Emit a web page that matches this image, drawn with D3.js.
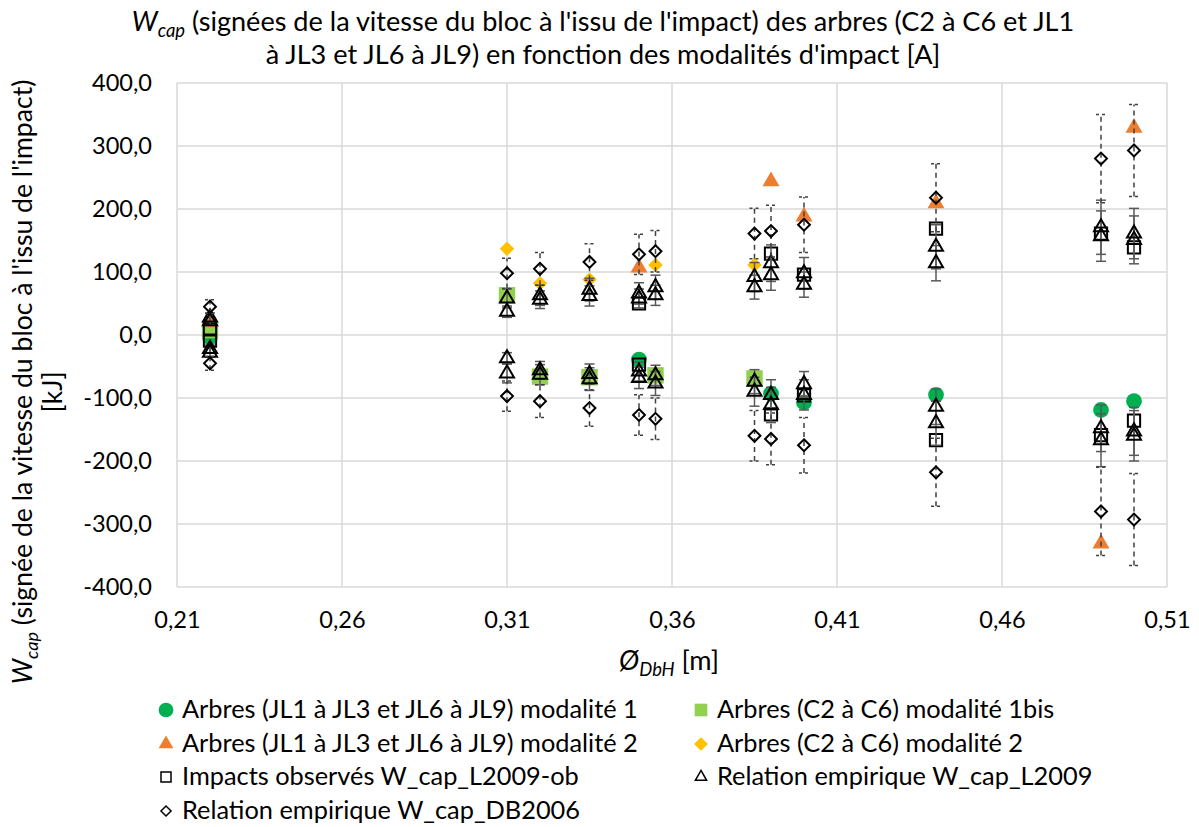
<!DOCTYPE html>
<html><head><meta charset="utf-8">
<script src="https://cdn.jsdelivr.net/npm/d3@7"></script>
<style>body{margin:0;background:#fff}svg{display:block}text{font-family:Lato,"Liberation Sans",sans-serif;fill:#000}</style>
</head><body><svg id="c" width="1199" height="827"></svg>
<script>
// ---- data ----
const xTicks = [0.21, 0.26, 0.31, 0.36, 0.41, 0.46, 0.51];
const yTicks = [-400, -300, -200, -100, 0, 100, 200, 300, 400];

const mod1JL_x = [0.22, 0.35, 0.39, 0.40, 0.44, 0.49, 0.50];
const mod1JL_y = [-4, -39, -93, -107, -95, -119, -105];

const mod1bisC_x = [0.22, 0.31, 0.32, 0.335, 0.355, 0.385];
const mod1bisC_y = [8, 63, -66, -67, -64, -69];

const mod2JL_x = [0.22, 0.35, 0.39, 0.40, 0.44, 0.49, 0.50];
const mod2JL_y = [20, 107, 244, 188, 209, -331, 329];

const mod2C_x = [0.31, 0.32, 0.335, 0.355, 0.385];
const mod2C_y = [137, 82, 88, 111, 111];

const obs_x = [0.22, 0.22, 0.35, 0.35, 0.39, 0.39, 0.40, 0.40, 0.44, 0.44, 0.49, 0.49, 0.50, 0.50];
const obs_y = [9, -9, 50, -47, 129, -126, 96, -96, 169, -167, 161, -159, 139, -136];

const L2009_x = [0.22,0.22,0.22,0.22, 0.31,0.31,0.31,0.31, 0.32,0.32,0.32,0.32, 0.335,0.335,0.335,0.335,
  0.35,0.35,0.35,0.35, 0.355,0.355,0.355,0.355, 0.385,0.385,0.385,0.385, 0.39,0.39,0.39,0.39,
  0.40,0.40,0.40,0.40, 0.44,0.44,0.44,0.44, 0.49,0.49,0.49,0.49, 0.50,0.50,0.50,0.50];
const L2009_y = [28,22,-22,-28, 58,37,-37,-61, 63,56,-56,-63, 72,62,-62,-70,
  66,58,-58,-68, 76,63,-64,-77, 92,76,-74,-90, 114,95,-95,-111,
  98,80,-78,-95, 140,114,-114,-140, 171,157,-148,-167, 161,151,-153,-160];
const L2009_err = [7,6,6,7, 15,9,9,15, 16,14,14,16, 18,16,16,18,
  17,15,15,17, 19,16,16,19, 23,19,19,23, 29,24,24,28,
  25,20,20,24, 35,28,28,35, 43,40,37,42, 40,38,38,40];

const DB2006_x = [0.22,0.22, 0.31,0.31, 0.32,0.32, 0.335,0.335, 0.35,0.35, 0.355,0.355,
  0.385,0.385, 0.39,0.39, 0.40,0.40, 0.44,0.44, 0.49,0.49, 0.50,0.50];
const DB2006_y = [45,-45, 98,-97, 105,-105, 116,-116, 128,-127, 133,-133,
  161,-160, 165,-165, 175,-175, 218,-218, 280,-280, 293,-293];
const DB2006_err = [11,11, 24,24, 26,26, 29,29, 32,32, 33,33,
  40,40, 41,41, 44,44, 54,54, 70,70, 73,73];

const legendLabels = [
  "Arbres (JL1 à JL3 et JL6 à JL9) modalité 1",
  "Arbres (C2 à C6) modalité 1bis",
  "Arbres (JL1 à JL3 et JL6 à JL9) modalité 2",
  "Arbres (C2 à C6) modalité 2",
  "Impacts observés W_cap_L2009-ob",
  "Relation empirique W_cap_L2009",
  "Relation empirique W_cap_DB2006"
];

// ---- chart ----
const svg = d3.select("#c");
const L = 177, R = 1167, T = 83, B = 587;
const x = d3.scaleLinear().domain([0.21, 0.51]).range([L, R]);
const y = d3.scaleLinear().domain([-400, 400]).range([B, T]);
const fmt = v => d3.format(".2f")(v).replace(".", ",");
const fmtY = v => d3.format(".1f")(v).replace(".", ",").replace("\u2212", "-");

// scale font so that a text spans a target width
function fit(sel, target) {
  const w = sel.node().getComputedTextLength();
  const fs = parseFloat(sel.attr("font-size"));
  const nf = fs * target / w;
  sel.attr("font-size", nf);
  return nf;
}

// grid
const g = svg.append("g");
g.selectAll(".gy").data(yTicks).join("line")
  .attr("x1", L).attr("x2", R).attr("y1", d => y(d)).attr("y2", d => y(d))
  .attr("stroke", "#d9d9d9").attr("stroke-width", 1.5);
g.selectAll(".gx").data(xTicks).join("line")
  .attr("y1", T).attr("y2", B).attr("x1", d => x(d)).attr("x2", d => x(d))
  .attr("stroke", "#d9d9d9").attr("stroke-width", 1.5);

// axes (labels only)
const ax = svg.append("g").attr("transform", `translate(0,${B})`)
  .call(d3.axisBottom(x).tickValues(xTicks).tickFormat(fmt).tickSize(0).tickPadding(24));
ax.select(".domain").remove();
const ay = svg.append("g").attr("transform", `translate(${L},0)`)
  .call(d3.axisLeft(y).tickValues(yTicks).tickFormat(fmtY).tickSize(0).tickPadding(25));
ay.select(".domain").remove();
ay.selectAll("text").attr("font-size", 20).style("font-family", null);
const tickFs = fit(ay.selectAll("text").filter(d => d === 400), 60);
ay.selectAll("text").attr("font-size", tickFs);
ax.selectAll("text").attr("font-size", tickFs).style("font-family", null);

// title
const t1 = svg.append("text").attr("text-anchor", "middle").attr("x", 603).attr("y", 31).attr("font-size", 22);
t1.append("tspan").attr("font-style", "italic").text("W");
t1.append("tspan").attr("font-style", "italic").style("font-size", "0.68em").attr("dy", 6).text("cap");
t1.append("tspan").attr("dy", -6).text(" (signées de la vitesse du bloc à l'issu de l'impact) des arbres (C2 à C6 et JL1");
const titleFs = fit(t1, 943);
svg.append("text").attr("text-anchor", "middle").attr("x", 603).attr("y", 64).attr("font-size", titleFs)
  .text("à JL3 et JL6 à JL9) en fonction des modalités d'impact [A]");

// x title
const xt = svg.append("text").attr("text-anchor", "middle").attr("x", 669).attr("y", 670).attr("font-size", titleFs);
xt.append("tspan").attr("font-style", "italic").text("Ø");
xt.append("tspan").attr("font-style", "italic").style("font-size", "0.68em").attr("dy", 6).text("DbH");
xt.append("tspan").attr("dy", -6).text(" [m]");

// y title
const yt = svg.append("g").attr("transform", "translate(0,382) rotate(-90)");
const yl1 = yt.append("text").attr("text-anchor", "middle").attr("x", 0).attr("y", 32).attr("font-size", 22);
yl1.append("tspan").attr("font-style", "italic").text("W");
yl1.append("tspan").attr("font-style", "italic").style("font-size", "0.68em").attr("dy", 6).text("cap");
yl1.append("tspan").attr("dy", -6).text(" (signée de la vitesse du bloc à l'issu de l'impact)");
const yFs = fit(yl1, 605);
yt.append("text").attr("text-anchor", "middle").attr("x", -10).attr("y", 62).attr("font-size", yFs).text("[kJ]");

// error bars
function errBars(xs, ys, es, color, dash) {
  const eg = svg.append("g").attr("stroke", color).attr("stroke-width", 1.5).attr("fill", "none");
  xs.forEach((xv, i) => {
    const cx = x(xv), y0 = y(ys[i] - es[i]), y1 = y(ys[i] + es[i]);
    eg.append("line").attr("x1", cx).attr("x2", cx).attr("y1", y0).attr("y2", y1).attr("stroke-dasharray", dash);
    eg.append("line").attr("x1", cx - 5).attr("x2", cx + 5).attr("y1", y0).attr("y2", y0).attr("stroke-dasharray", dash ? "3,3" : null);
    eg.append("line").attr("x1", cx - 5).attr("x2", cx + 5).attr("y1", y1).attr("y2", y1).attr("stroke-dasharray", dash ? "3,3" : null);
  });
}

const sym = (type, size) => d3.symbol().type(type).size(size)();
const series = [
  {xs: mod1JL_x, ys: mod1JL_y, path: sym(d3.symbolCircle, 195), fill: "#00B050", stroke: "none"},
  {xs: mod1bisC_x, ys: mod1bisC_y, path: sym(d3.symbolSquare, 270), fill: "#92D050", stroke: "none"},
  {xs: mod2JL_x, ys: mod2JL_y, path: sym(d3.symbolTriangle, 125), fill: "#ED7D31", stroke: "none"},
  {xs: mod2C_x, ys: mod2C_y, path: sym(d3.symbolDiamond2, 135), fill: "#FFC000", stroke: "none"},
  {xs: obs_x, ys: obs_y, path: sym(d3.symbolSquare, 150), fill: "none", stroke: "#000"},
  {xs: L2009_x, ys: L2009_y, path: sym(d3.symbolTriangle, 85), fill: "none", stroke: "#000", err: L2009_err, ec: "#595959", dash: null},
  {xs: DB2006_x, ys: DB2006_y, path: sym(d3.symbolDiamond2, 90), fill: "none", stroke: "#000", err: DB2006_err, ec: "#404040", dash: "5,4"}
];
series.forEach(s => {
  if (s.err) errBars(s.xs, s.ys, s.err, s.ec, s.dash);
  svg.append("g").selectAll("path").data(s.xs.map((xv, i) => [xv, s.ys[i]])).join("path")
    .attr("d", s.path)
    .attr("transform", d => `translate(${x(d[0])},${y(d[1])})`)
    .attr("fill", s.fill).attr("stroke", s.stroke).attr("stroke-width", 2);
});

// legend
const legPos = [[166, 710], [701, 710], [166, 744], [701, 744], [166, 777], [701, 777], [166, 811]];
const legSym = [
  {path: sym(d3.symbolCircle, 170), fill: "#00B050", stroke: "none", sw: 0},
  {path: sym(d3.symbolSquare, 160), fill: "#92D050", stroke: "none", sw: 0},
  {path: sym(d3.symbolTriangle, 95), fill: "#ED7D31", stroke: "none", sw: 0},
  {path: sym(d3.symbolDiamond2, 120), fill: "#FFC000", stroke: "none", sw: 0},
  {path: sym(d3.symbolSquare, 100), fill: "none", stroke: "#000", sw: 1.5},
  {path: sym(d3.symbolTriangle, 55), fill: "none", stroke: "#000", sw: 1.5},
  {path: sym(d3.symbolDiamond2, 65), fill: "none", stroke: "#000", sw: 1.5}
];
const lg = svg.append("g");
const legTexts = [];
legendLabels.forEach((lab, i) => {
  const [lx, ly] = legPos[i];
  lg.append("path").attr("d", legSym[i].path).attr("transform", `translate(${lx},${ly})`)
    .attr("fill", legSym[i].fill).attr("stroke", legSym[i].stroke).attr("stroke-width", legSym[i].sw);
  legTexts.push(lg.append("text").attr("x", lx + 16).attr("y", ly + 8).attr("font-size", 21).text(lab));
});
const legFs = fit(legTexts[0], 456);
legTexts.forEach(t => t.attr("font-size", legFs));
</script></body></html>
